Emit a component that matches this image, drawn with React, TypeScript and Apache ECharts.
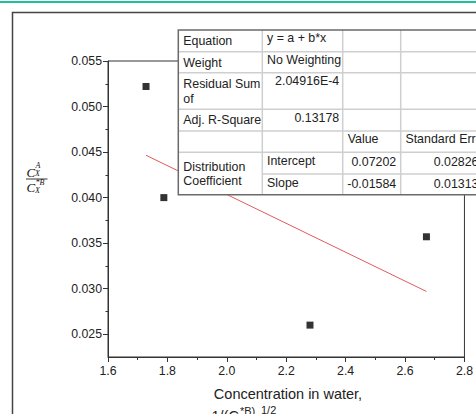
import React, { useEffect, useRef } from "react";
import * as echarts from "echarts";

// Measured points: concentration in water vs. distribution coefficient
const xValues = [1.728, 1.788, 2.28, 2.672];
const yValues = [0.0522, 0.04, 0.026, 0.0357];

// Linear fit results (y = a + b*x)
const fitIntercept = 0.07202;
const fitSlope = -0.01584;
const fitInterceptErr = 0.02826;
const fitSlopeErr = 0.01313;

// Axis ticks
const xTicks = [1.6, 1.8, 2.0, 2.2, 2.4, 2.6, 2.8];
const yTicks = [0.025, 0.03, 0.035, 0.04, 0.045, 0.05, 0.055];
const yMinorTicks = [0.0275, 0.0325, 0.0375, 0.0425, 0.0475, 0.0525];

// Fit summary table texts
const summaryLabels = ["Equation", "Weight", "Residual Sum\nof", "Adj. R-Square"];
const summaryValues = ["y = a + b*x", "No Weighting", "2.04916E-4", "0.13178"];
const paramHeaders = ["Value", "Standard Erro"];
const paramGroup = "Distribution\nCoefficient";
const paramNames = ["Intercept", "Slope"];
const paramValues = [fitIntercept, fitSlope];
const paramErrors = [fitInterceptErr, fitSlopeErr];

const SANS = "'Liberation Sans', Arial, sans-serif";
const SERIF = "'Liberation Serif', 'Times New Roman', serif";
const TXT = "#222";

function txt(
  text: string,
  x: number,
  y: number,
  opts: { align?: string; size?: number; family?: string; italic?: boolean; lineHeight?: number; z?: number; vAlign?: string; fill?: string } = {}
) {
  const align = opts.align || "left";
  const vAlign = opts.vAlign || "middle";
  return {
    type: "text",
    x,
    y,
    z: opts.z ?? 120,
    silent: true,
    style: {
      text,
      fill: opts.fill ?? TXT,
      fontSize: opts.size ?? 12.4,
      fontFamily: opts.family ?? SANS,
      fontStyle: opts.italic ? "italic" : "normal",
      lineHeight: opts.lineHeight,
      align,
      textAlign: align,
      verticalAlign: vAlign,
      textVerticalAlign: vAlign,
    },
  };
}

function ln(x1: number, y1: number, x2: number, y2: number, stroke: string, lineWidth: number, z = 115) {
  return { type: "line", z, silent: true, shape: { x1, y1, x2, y2 }, style: { stroke, lineWidth } };
}

function buildTable() {
  const colX = [178.3, 262.3, 342.7, 400.7, 484];
  const rowY = [30, 51.7, 72.7, 109.3, 131, 152.3, 174, 194.7];
  const inner = "#cfcfcf";
  const outer = "#6a6a6a";
  const els: any[] = [];
  const left = colX[0];
  const right = colX[colX.length - 1];
  const top = rowY[0];
  const bottom = rowY[rowY.length - 1];

  els.push({
    type: "rect",
    z: 110,
    silent: true,
    shape: { x: left, y: top, width: right - left, height: bottom - top },
    style: { fill: "#fff" },
  });
  // horizontal grid lines (the group cell spans the last two rows)
  for (let i = 1; i < rowY.length - 1; i++) {
    const startX = i === 6 ? colX[1] : left;
    els.push(ln(startX, rowY[i], right, rowY[i], inner, 1.5));
  }
  // vertical grid lines
  for (let j = 1; j < colX.length - 1; j++) {
    els.push(ln(colX[j], top, colX[j], bottom, inner, 1.5));
  }
  // outer border
  els.push({
    type: "rect",
    z: 118,
    silent: true,
    shape: { x: left, y: top, width: right - left, height: bottom - top },
    style: { fill: "none", stroke: outer, lineWidth: 1.5 },
  });

  // summary rows
  summaryLabels.forEach((label, i) => {
    const r0 = rowY[i];
    const lines = label.split("\n").length;
    els.push(txt(label, left + 5, r0 + 10.8 + (lines - 1) * 7.5, { lineHeight: 15 }));
    const v = summaryValues[i];
    const rightAligned = i >= 2;
    els.push(
      rightAligned
        ? txt(v, colX[2] - 3.5, r0 + 8.3, { align: "right" })
        : txt(v, colX[1] + 4.7, r0 + 8.3)
    );
  });

  // parameter header row; the wrapped tail of the header sits under the next row
  els.push(txt(paramHeaders[0], colX[2] + 5, rowY[4] + 8.3));
  els.push(txt(paramHeaders[1], colX[3] + 4.7, rowY[4] + 8.3));
  els.push(txt("r", colX[3] + 4.7, rowY[4] + 23.5, { z: 105 }));

  // parameter rows
  els.push(txt(paramGroup, left + 5, (rowY[5] + rowY[7]) / 2 + 0.5, { lineHeight: 13.6 }));
  paramNames.forEach((name, k) => {
    const r0 = rowY[5 + k];
    els.push(txt(name, colX[1] + 4.7, r0 + 8.7));
    els.push(txt(paramValues[k].toFixed(5), colX[3] - 4.5, r0 + 9.5, { align: "right" }));
    els.push(txt(paramErrors[k].toFixed(5), colX[4] - 5.5, r0 + 9.5, { align: "right" }));
  });
  return els;
}

function buildAxisNames() {
  const els: any[] = [];
  const ink = "#111";
  // y-axis name: C_X^A / C_X^{*B}
  els.push(txt("C", 26.5, 172, { family: SERIF, italic: true, size: 13, fill: ink }));
  els.push(txt("A", 35.5, 165, { family: SERIF, italic: true, size: 8, fill: ink }));
  els.push(txt("X", 35, 173.5, { family: SERIF, italic: true, size: 8, fill: ink }));
  els.push(ln(26, 179, 47.5, 179, "#222", 0.9, 120));
  els.push(txt("C", 26.5, 187, { family: SERIF, italic: true, size: 13, fill: ink }));
  els.push(txt("*B", 35.5, 182.5, { family: SERIF, italic: true, size: 8, fill: ink }));
  els.push(txt("X", 35, 190.5, { family: SERIF, italic: true, size: 8, fill: ink }));

  // x-axis name (two lines, the second one runs off the bottom)
  els.push(txt("Concentration in water,", 288, 394, { align: "center", size: 14.5 }));
  els.push(txt("1/(C", 211.5, 408.5, { size: 14.5, vAlign: "top" }));
  els.push(txt("X", 240, 417, { size: 10, vAlign: "top" }));
  els.push(txt("*B)", 240, 405.5, { size: 11, vAlign: "top" }));
  els.push(txt("1/2", 261, 404.5, { size: 11, vAlign: "top" }));
  return els;
}

export default function App() {
  const ref = useRef<HTMLDivElement>(null);

  useEffect(() => {
    if (!ref.current) return;
    const chart = echarts.init(ref.current, null, { renderer: "svg" });

    const points = xValues.map((x, i) => [x, yValues[i]]);
    const xLo = Math.min(...xValues);
    const xHi = Math.max(...xValues);
    const fitLine = [xLo, xHi].map((x) => [x, fitIntercept + fitSlope * x]);

    const axisColor = "#333";

    chart.setOption({
      animation: false,
      backgroundColor: "#fff",
      grid: {
        left: 108,
        right: 4,
        top: 61,
        bottom: 57,
        show: true,
        borderColor: axisColor,
        borderWidth: 1,
        backgroundColor: "transparent",
      },
      xAxis: {
        type: "value",
        min: xTicks[0],
        max: xTicks[xTicks.length - 1],
        interval: 0.2,
        axisLine: { show: true, lineStyle: { color: axisColor, width: 1 } },
        axisTick: { show: true, inside: false, length: 5, lineStyle: { color: axisColor } },
        minorTick: { show: true, splitNumber: 2, length: 3, lineStyle: { color: axisColor } },
        axisLabel: {
          color: TXT,
          fontSize: 12.3,
          fontFamily: SANS,
          margin: 8,
          showMinLabel: true,
          showMaxLabel: true,
          formatter: (v: number) => v.toFixed(1),
        },
        splitLine: { show: false },
      },
      yAxis: [
        {
          type: "value",
          min: 0.0225,
          max: 0.055,
          axisLine: { show: true, lineStyle: { color: axisColor, width: 1 } },
          axisTick: { show: true, inside: false, length: 5, customValues: yTicks, lineStyle: { color: axisColor } },
          axisLabel: {
            color: TXT,
            fontSize: 12.3,
            fontFamily: SANS,
            margin: 6,
            customValues: yTicks,
            formatter: (v: number) => v.toFixed(3),
          },
          splitLine: { show: false },
        },
        {
          type: "value",
          position: "left",
          min: 0.0225,
          max: 0.055,
          axisLine: { show: false },
          axisTick: { show: true, inside: false, length: 2.5, customValues: yMinorTicks, lineStyle: { color: axisColor } },
          axisLabel: { show: false },
          splitLine: { show: false },
        },
      ],
      series: [
        {
          type: "scatter",
          data: points,
          symbol: "rect",
          symbolSize: 7,
          itemStyle: { color: "#000" },
          z: 3,
        },
        {
          type: "line",
          data: fitLine,
          symbol: "none",
          lineStyle: { color: "#e05c5c", width: 1 },
          z: 2,
        },
      ],
      graphic: [
        // top accent stripe
        { type: "rect", z: 130, silent: true, shape: { x: 0, y: 1, width: 476, height: 2 }, style: { fill: "#1dbf9f" } },
        // outer frame
        {
          type: "rect",
          z: 130,
          silent: true,
          shape: { x: 12.5, y: 12.5, width: 520, height: 460 },
          style: { fill: "none", stroke: "#444", lineWidth: 1.5 },
        },
        ...buildTable(),
        ...buildAxisNames(),
      ],
    });

    return () => chart.dispose();
  }, []);

  return (
    <div
      ref={ref}
      style={{ position: "absolute", left: 0, top: 0, width: 476, height: 414, background: "#fff" }}
    />
  );
}
